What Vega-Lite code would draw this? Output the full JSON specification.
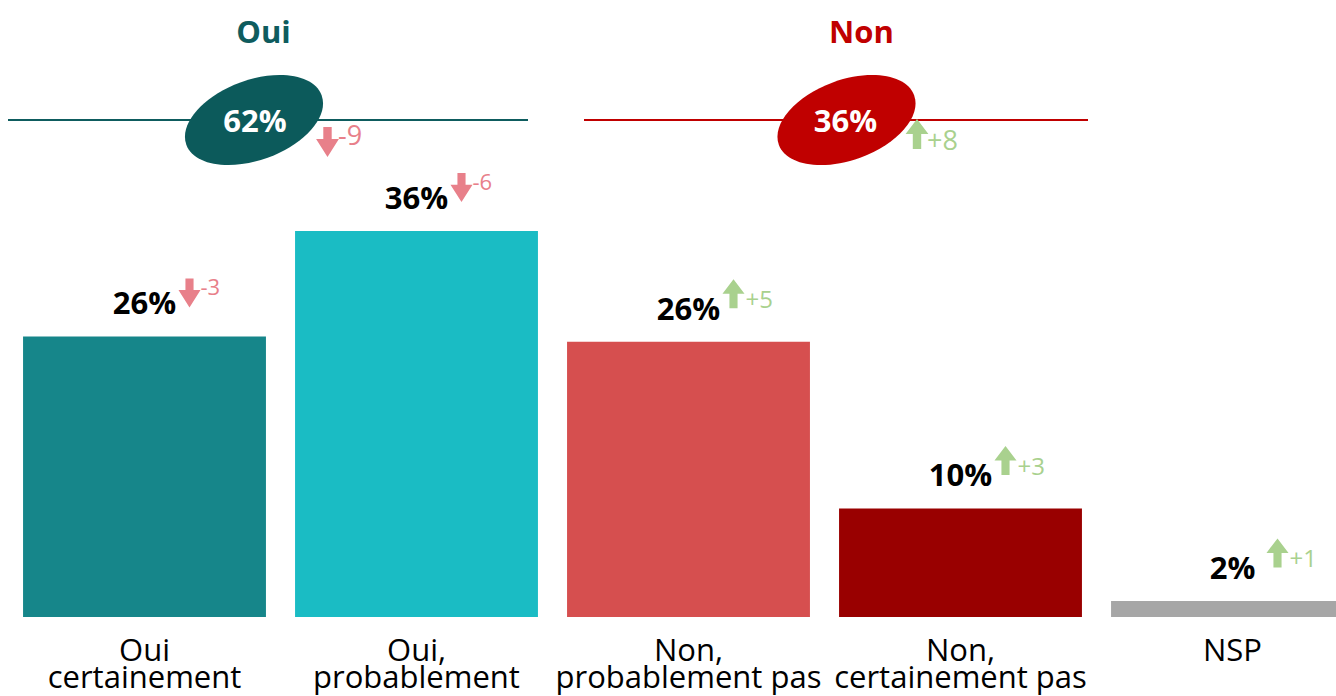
{
  "$schema": "https://vega.github.io/schema/vega-lite/v6.json",
  "width": 1336,
  "height": 696,
  "padding": 0,
  "autosize": {"type": "none"},
  "background": "white",
  "config": {"view": {"stroke": null}, "font": "Open Sans", "text": {"font": "Open Sans"}},
  "datasets": {
    "bars": [
      {"cat": "Oui certainement", "label": "Oui\ncertainement", "value": 26.1, "pct": "26%", "change": -3, "changeLabel": "-3"},
      {"cat": "Oui, probablement", "label": "Oui,\nprobablement", "value": 35.9, "pct": "36%", "change": -6, "changeLabel": "-6"},
      {"cat": "Non, probablement pas", "label": "Non,\nprobablement pas", "value": 25.6, "pct": "26%", "change": 5, "changeLabel": "+5"},
      {"cat": "Non, certainement pas", "label": "Non,\ncertainement pas", "value": 10.1, "pct": "10%", "change": 3, "changeLabel": "+3"},
      {"cat": "NSP", "label": "NSP", "value": 1.5, "pct": "2%", "change": 1, "changeLabel": "+1"}
    ],
    "groups": [
      {"group": "Oui", "total": "62%", "change": -9, "changeLabel": "-9", "from": 0, "to": 2, "mid": 1},
      {"group": "Non", "total": "36%", "change": 8, "changeLabel": "+8", "from": 2, "to": 4, "mid": 3}
    ]
  },
  "resolve": {"scale": {"x": "independent"}},
  "layer": [
    {
      "data": {"name": "bars"},
      "encoding": {
        "x": {"field": "cat", "type": "nominal", "sort": null, "axis": null,
              "scale": {"type": "band", "range": [8.5, 1368.5], "paddingInner": 0.107, "paddingOuter": 0.0535}},
        "y": {"field": "value", "type": "quantitative", "axis": null,
              "scale": {"domain": [0, 57.4], "range": [617, 0], "nice": false, "zero": true}}
      },
      "layer": [
        {
          "mark": {"type": "bar"},
          "encoding": {
            "color": {"field": "cat", "type": "nominal", "sort": null, "legend": null,
                      "scale": {"domain": ["Oui certainement", "Oui, probablement", "Non, probablement pas", "Non, certainement pas", "NSP"],
                                "range": ["#16868A", "#1ABCC4", "#D64F4F", "#990000", "#A6A6A6"]}}
          }
        },
        {
          "mark": {"type": "text", "fontSize": 31, "fontWeight": "bold", "color": "#000000", "baseline": "alphabetic", "align": "center", "dy": -22},
          "encoding": {"text": {"field": "pct"}}
        },
        {
          "transform": [{"filter": "datum.change < 0"}],
          "mark": {"type": "point", "shape": "M -0.28 -1 L 0.28 -1 L 0.28 -0.2 L 0.76 -0.2 L 0 1 L -0.76 -0.2 L -0.28 -0.2 Z",
                   "size": 841, "filled": true, "opacity": 1, "strokeWidth": 0, "color": "#E8808A", "xOffset": 45, "yOffset": -43.5}
        },
        {
          "transform": [{"filter": "datum.change > 0"}],
          "mark": {"type": "point", "shape": "M -0.28 1 L 0.28 1 L 0.28 0 L 0.76 0 L 0 -1 L -0.76 0 L -0.28 0 Z",
                   "size": 841, "filled": true, "opacity": 1, "strokeWidth": 0, "color": "#A9D18E", "xOffset": 45, "yOffset": -48}
        },
        {
          "transform": [{"filter": "datum.change < 0"}],
          "mark": {"type": "text", "align": "left", "baseline": "alphabetic", "dx": 56, "dy": -41, "fontSize": 22, "color": "#E8808A"},
          "encoding": {"text": {"field": "changeLabel"}}
        },
        {
          "transform": [{"filter": "datum.change > 0"}],
          "mark": {"type": "text", "align": "left", "baseline": "alphabetic", "dx": 57, "dy": -33.5, "fontSize": 24, "color": "#A9D18E"},
          "encoding": {"text": {"field": "changeLabel"}}
        },
        {
          "mark": {"type": "text", "fontSize": 31, "lineBreak": "\n", "lineHeight": 27, "baseline": "alphabetic", "align": "center", "dy": 44, "color": "#000000"},
          "encoding": {"y": {"datum": 0, "type": "quantitative"}, "text": {"field": "label"}}
        }
      ]
    },
    {
      "data": {"name": "groups"},
      "layer": [
        {
          "transform": [{"filter": "datum.group == 'Oui'"}],
          "encoding": {
            "x": {"field": "mid", "type": "quantitative", "axis": null, "scale": {"domain": [0, 5], "range": [8.5, 1368.5], "nice": false, "zero": false}},
            "y": {"datum": 46.23, "type": "quantitative"}
          },
          "layer": [
            {
              "mark": {"type": "rule", "color": "#0E5C5E", "strokeWidth": 2, "xOffset": -0.5, "x2Offset": -24.5},
              "encoding": {"x": {"field": "from", "type": "quantitative"}, "x2": {"field": "to"}}
            },
            {
              "mark": {"type": "point", "shape": "M -0.94 0.342 A 1 0.556 -20 1 1 0.94 -0.342 A 1 0.556 -20 1 1 -0.94 0.342 Z",
                       "size": 20736, "filled": true, "opacity": 1, "strokeWidth": 0, "color": "#0C5A5B", "xOffset": -26.5}
            },
            {
              "mark": {"type": "text", "fontSize": 31, "fontWeight": "bold", "color": "#FFFFFF", "align": "center", "baseline": "alphabetic", "dx": -25.5, "dy": 12},
              "encoding": {"text": {"field": "total"}}
            },
            {
              "mark": {"type": "text", "fontSize": 31, "fontWeight": "bold", "color": "#0E5C5E", "align": "center", "baseline": "alphabetic", "dx": -17, "dy": -77.5},
              "encoding": {"text": {"field": "group"}}
            },
            {
              "mark": {"type": "point", "shape": "M -0.28 -1 L 0.28 -1 L 0.28 -0.2 L 0.76 -0.2 L 0 1 L -0.76 -0.2 L -0.28 -0.2 Z",
                       "size": 900, "filled": true, "opacity": 1, "strokeWidth": 0, "color": "#E8808A", "xOffset": 47, "yOffset": 22}
            },
            {
              "mark": {"type": "text", "fontSize": 27, "color": "#E8808A", "align": "left", "baseline": "alphabetic", "dx": 57.5, "dy": 25},
              "encoding": {"text": {"field": "changeLabel"}}
            }
          ]
        },
        {
          "transform": [{"filter": "datum.group == 'Non'"}],
          "encoding": {
            "x": {"field": "mid", "type": "quantitative", "axis": null, "scale": {"domain": [0, 5], "range": [8.5, 1368.5], "nice": false, "zero": false}},
            "y": {"datum": 46.23, "type": "quantitative"}
          },
          "layer": [
            {
              "mark": {"type": "rule", "color": "#C00000", "strokeWidth": 2, "xOffset": 31.5, "x2Offset": -8.5},
              "encoding": {"x": {"field": "from", "type": "quantitative"}, "x2": {"field": "to"}}
            },
            {
              "mark": {"type": "point", "shape": "M -0.94 0.342 A 1 0.556 -20 1 1 0.94 -0.342 A 1 0.556 -20 1 1 -0.94 0.342 Z",
                       "size": 20736, "filled": true, "opacity": 1, "strokeWidth": 0, "color": "#C00000", "xOffset": 22}
            },
            {
              "mark": {"type": "text", "fontSize": 31, "fontWeight": "bold", "color": "#FFFFFF", "align": "center", "baseline": "alphabetic", "dx": 21, "dy": 12},
              "encoding": {"text": {"field": "total"}}
            },
            {
              "mark": {"type": "text", "fontSize": 31, "fontWeight": "bold", "color": "#C00000", "align": "center", "baseline": "alphabetic", "dx": 37, "dy": -77.5},
              "encoding": {"text": {"field": "group"}}
            },
            {
              "mark": {"type": "point", "shape": "M -0.28 1 L 0.28 1 L 0.28 0 L 0.76 0 L 0 -1 L -0.76 0 L -0.28 0 Z",
                       "size": 900, "filled": true, "opacity": 1, "strokeWidth": 0, "color": "#A9D18E", "xOffset": 92.5, "yOffset": 14}
            },
            {
              "mark": {"type": "text", "fontSize": 27, "color": "#A9D18E", "align": "left", "baseline": "alphabetic", "dx": 102.5, "dy": 30},
              "encoding": {"text": {"field": "changeLabel"}}
            }
          ]
        }
      ]
    }
  ]
}
